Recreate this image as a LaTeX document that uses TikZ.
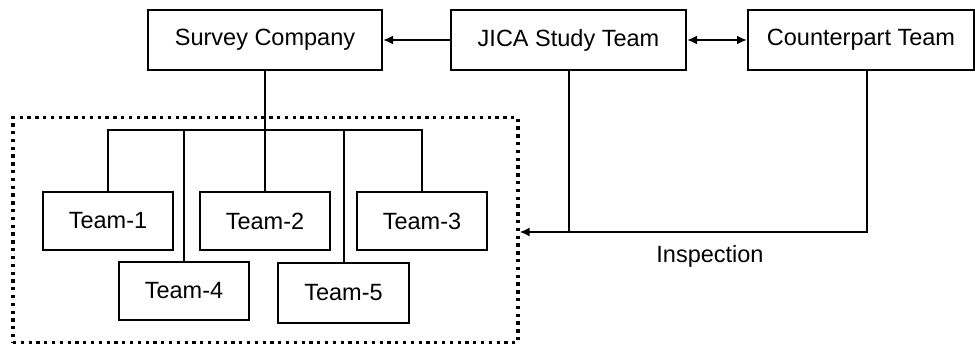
\documentclass[tikz,border=0pt]{standalone}
\usepackage{fontspec}
\setmainfont{Liberation Sans}
\usetikzlibrary{arrows.meta,calc}
\begin{document}
\begin{tikzpicture}[x=1pt,y=-1pt,
  box/.style={draw,line width=2pt,rectangle,inner sep=0pt,font=\fontsize{23.5}{28}\selectfont},
  conn/.style={line width=2pt},
  arr/.style={line width=2pt,-{Latex[length=10pt,width=9pt]}},
  grp/.style={draw,line width=3.3pt,dash pattern=on 3.3pt off 4.5pt,rectangle,inner sep=0pt}]
\useasboundingbox (0,0) rectangle (975,345);
\node[grp,minimum width=505pt,minimum height=224.6pt] (group) at (265.4,230) {};
\node[box,minimum width=234pt,minimum height=60pt] (survey) at (265,40) {Survey Company};
\node[box,minimum width=235pt,minimum height=60pt] (jica) at (568.5,40) {JICA Study Team};
\node[box,minimum width=226pt,minimum height=60pt] (cp) at (861,40) {Counterpart Team};
\node[box,minimum width=130pt,minimum height=58pt] (t1) at (108,221) {Team-1};
\node[box,minimum width=130pt,minimum height=58pt] (t2) at (265,221) {Team-2};
\node[box,minimum width=130pt,minimum height=58pt] (t3) at (422,221) {Team-3};
\node[box,minimum width=130pt,minimum height=58pt] (t4) at (184,291) {Team-4};
\node[box,minimum width=131pt,minimum height=60pt] (t5) at (343.5,292.5) {Team-5};
\node[font=\fontsize{23.5}{28}\selectfont,inner sep=0pt] (insp) at (710,256) {Inspection};
\coordinate (bar) at (265,130);
\coordinate (cpdrop) at (867,70);
\coordinate (join) at (569,232);
% connectors
\draw[arr] (jica.west) -- (survey.east);
\draw[line width=2pt,{Latex[length=10pt,width=9pt]}-{Latex[length=10pt,width=9pt]}] (jica.east) -- (cp.west);
\draw[conn] (survey.south) -- (bar);
\draw[conn] (t1.north) |- (bar);
\draw[conn] (t3.north) |- (bar);
\draw[conn] (t2.north) -- (bar);
\draw[conn] (t4.north) -- (t4.north |- bar);
\draw[conn] (t5.north) -- (t5.north |- bar);
\draw[conn] (jica.south -| join) -- (join);
\draw[arr] (cpdrop) |- (join) -- (group.east |- join);
\end{tikzpicture}
\end{document}
